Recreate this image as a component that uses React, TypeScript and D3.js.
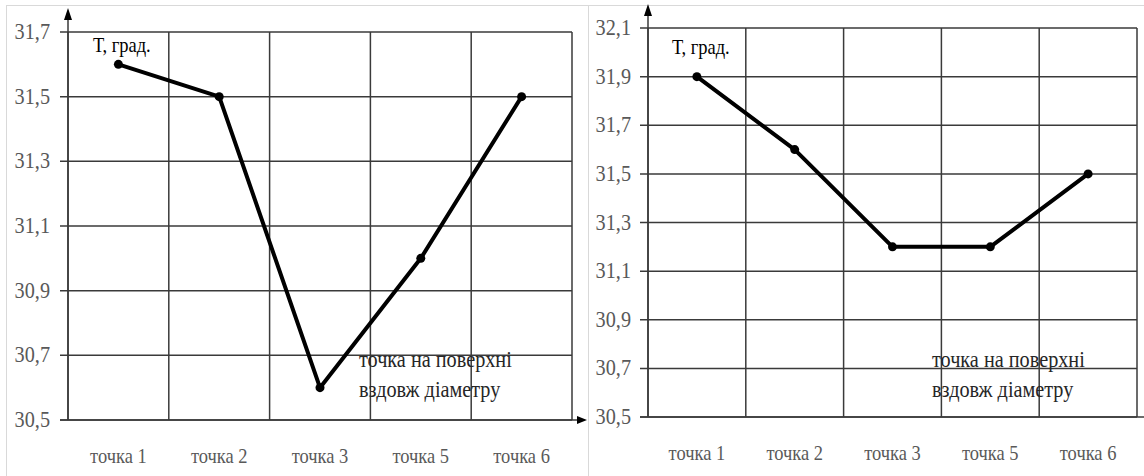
import React from "react";
import * as d3 from "d3";

// categories and values
const categories = ["точка 1", "точка 2", "точка 3", "точка 5", "точка 6"];
const leftValues = [31.6, 31.5, 30.6, 31.0, 31.5];
const rightValues = [31.9, 31.6, 31.2, 31.2, 31.5];
const leftTicks = [30.5, 30.7, 30.9, 31.1, 31.3, 31.5, 31.7];
const rightTicks = [30.5, 30.7, 30.9, 31.1, 31.3, 31.5, 31.7, 31.9, 32.1];
const yLabel = "Т, град.";
const noteLines = ["точка на поверхні", "вздовж діаметру"];

const FONT = "Liberation Serif, DejaVu Serif, serif";
const fmt = (v: number) => v.toFixed(1).replace(".", ",");

type PanelProps = {
  values: number[];
  ticks: number[];
  x0: number;
  x1: number;
  yTop: number;
  yBottom: number;
  labelEnd: number;
  arrowEnd: number;
  labelPos: [number, number];
  notePos: [number, number];
};

const SText = ({ x, y, anchor = "start", size, fill, children }: any) => (
  <text
    transform={`translate(${x},${y}) scale(0.88,1)`}
    textAnchor={anchor}
    style={{ fontFamily: FONT, fontSize: size }}
    fill={fill}
  >
    {children}
  </text>
);

const Panel = ({ values, ticks, x0, x1, yTop, yBottom, labelEnd, arrowEnd, labelPos, notePos }: PanelProps) => {
  const xScale = d3.scaleBand<string>().domain(categories).range([x0, x1]).padding(0);
  const yScale = d3
    .scaleLinear()
    .domain([ticks[0], ticks[ticks.length - 1]])
    .range([yBottom, yTop]);
  const cx = (c: string) => (xScale(c) as number) + xScale.bandwidth() / 2;

  const line = d3
    .line<number>()
    .x((d, i) => cx(categories[i]))
    .y((d) => yScale(d));

  const bounds = categories.map((c) => xScale(c) as number).concat([x1]);
  const grid = "#3a3a3a";

  return (
    <g>
      {/* horizontal grid */}
      {ticks.map((t) => (
        <line key={"h" + t} x1={x0 - 8} x2={x1} y1={yScale(t)} y2={yScale(t)} stroke={grid} strokeWidth={1.5} />
      ))}
      {/* vertical grid */}
      {bounds.map((b, i) => (
        <line key={"v" + i} x1={b} x2={b} y1={yTop} y2={yBottom} stroke={grid} strokeWidth={1.5} />
      ))}
      {/* y axis with arrow */}
      <line x1={x0} x2={x0} y1={yBottom} y2={yTop - 14} stroke={grid} strokeWidth={1.5} />
      <path d={`M${x0 - 4},${yTop - 12} L${x0},${yTop - 24} L${x0 + 4},${yTop - 12} Z`} fill="#000" />
      {/* x axis with arrow */}
      <line x1={x0 - 8} x2={arrowEnd - 8} y1={yBottom} y2={yBottom} stroke={grid} strokeWidth={1.5} />
      <path d={`M${arrowEnd - 10},${yBottom - 4} L${arrowEnd},${yBottom} L${arrowEnd - 10},${yBottom + 4} Z`} fill="#000" />

      {ticks.map((t) => (
        <SText key={"t" + t} x={labelEnd} y={yScale(t) + 7} anchor="end" size={23} fill="#595959">
          {fmt(t)}
        </SText>
      ))}
      {categories.map((c) => (
        <SText key={c} x={cx(c)} y={yBottom + 43} anchor="middle" size={21} fill="#595959">
          {c}
        </SText>
      ))}

      <path d={line(values) || ""} fill="none" stroke="#000" strokeWidth={4} strokeLinejoin="round" />
      {values.map((v, i) => (
        <circle key={"p" + i} cx={cx(categories[i])} cy={yScale(v)} r={4.5} fill="#000" />
      ))}

      <SText x={labelPos[0]} y={labelPos[1]} size={21} fill="#000">
        {yLabel}
      </SText>
      {noteLines.map((s, i) => (
        <SText key={s} x={notePos[0]} y={notePos[1] + i * 30} size={23} fill="#262626">
          {s}
        </SText>
      ))}
    </g>
  );
};

export default function App() {
  return (
    <svg
      width={1144}
      height={476}
      style={{ position: "absolute", left: 0, top: 0, background: "#fff" }}
    >
      <rect x={6.5} y={5.5} width={600} height={500} fill="#fff" stroke="#d9d9d9" />
      <Panel
        values={leftValues}
        ticks={leftTicks}
        x0={68}
        x1={572}
        yTop={32}
        yBottom={420}
        labelEnd={50}
        arrowEnd={587}
        labelPos={[93, 52]}
        notePos={[359, 367]}
      />
      <rect x={588.5} y={5.5} width={600} height={500} fill="#fff" stroke="#d9d9d9" />
      <Panel
        values={rightValues}
        ticks={rightTicks}
        x0={648}
        x1={1137}
        yTop={28}
        yBottom={417}
        labelEnd={631}
        arrowEnd={1160}
        labelPos={[672, 54]}
        notePos={[932, 367]}
      />
    </svg>
  );
}
